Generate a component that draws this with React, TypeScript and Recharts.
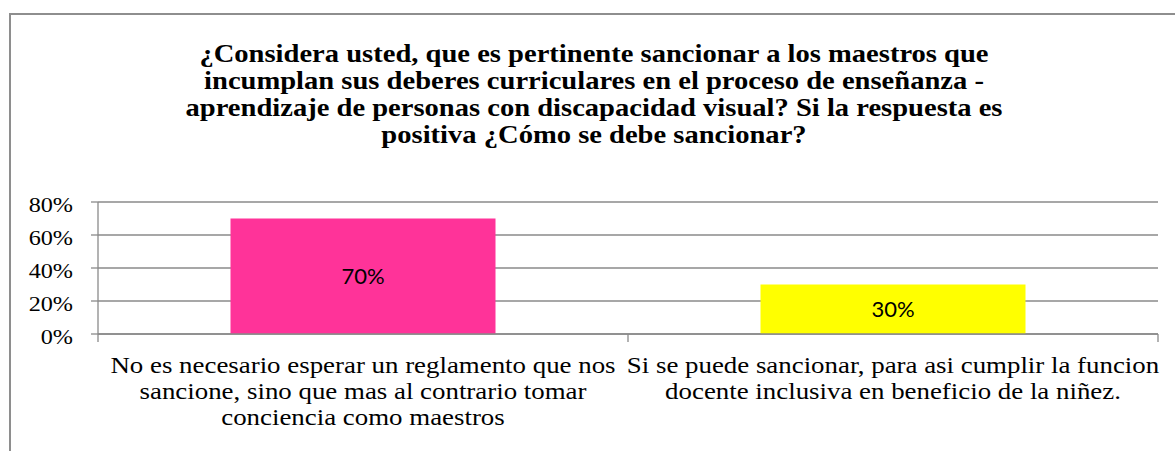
import React from 'react';
import { BarChart, Bar, XAxis, YAxis, CartesianGrid, Cell, LabelList } from 'recharts';

const titleLines = [
  '¿Considera usted, que es pertinente sancionar a los maestros que',
  'incumplan sus deberes curriculares en el proceso de enseñanza -',
  'aprendizaje de personas con discapacidad visual? Si la respuesta es',
  'positiva ¿Cómo se debe sancionar?',
];

// category labels, already split the way the original wraps them
const categoryLines = [
  ['No es necesario esperar un reglamento que nos', 'sancione, sino que mas al contrario tomar', 'conciencia como maestros'],
  ['Si se puede sancionar, para asi cumplir la funcion', 'docente inclusiva en beneficio de la niñez.'],
];
const shares = [0.7, 0.3];
const barColors = ['#ff3399', '#ffff00'];
const yTicks = [0, 0.2, 0.4, 0.6, 0.8];

const data = categoryLines.map((lines, i) => ({ name: lines.join(' '), value: shares[i] }));

const serif = 'Liberation Serif';
const gridColor = '#8a8a8a';
const pct = (v: number) => `${Math.round(v * 100)}%`;

const XTick = (props: any) => {
  const { x, y, payload, index } = props;
  const half = payload && payload.offset ? payload.offset : 265;
  const lines = categoryLines[index] || [String(payload.value)];
  const last = index === categoryLines.length - 1;
  return (
    <g>
      <line x1={x - half} x2={x - half} y1={y} y2={y + 8} stroke={gridColor} strokeWidth={1.3} />
      {last && <line x1={x + half} x2={x + half} y1={y} y2={y + 8} stroke={gridColor} strokeWidth={1.3} />}
      <text transform={`translate(${x},${y}) scale(1.12,1)`} textAnchor="middle" fontFamily={serif} fontSize={24} fill="#000">
        {lines.map((l, i) => (
          <tspan key={i} x={0} y={39 + i * 26}>{l}</tspan>
        ))}
      </text>
    </g>
  );
};

const YTick = (props: any) => {
  const { x, y, payload } = props;
  return (
    <text transform={`translate(${x},${y + 10}) scale(1.1,1)`} textAnchor="end" fontFamily={serif} fontSize={22} fill="#000">
      {pct(payload.value)}
    </text>
  );
};

export default function App() {
  return (
    <div style={{ position: 'absolute', left: 0, top: 0, width: 1175, height: 451, overflow: 'hidden', background: '#fff', fontFamily: serif }}>
      <div style={{ position: 'absolute', left: 9, top: 13, width: 1300, height: 600, borderLeft: '2px solid #8e8e8e', borderTop: '2px solid #8e8e8e' }} />
      <div
        style={{
          position: 'absolute',
          left: 0,
          top: 40,
          width: 1188,
          textAlign: 'center',
          fontFamily: serif,
          fontWeight: 'bold',
          fontSize: 25.5,
          lineHeight: '27px',
          color: '#000',
          whiteSpace: 'nowrap',
          transform: 'scaleX(1.12)',
          transformOrigin: '594px 0',
        }}
      >
        {titleLines.map((l, i) => (
          <div key={i}>{l}</div>
        ))}
      </div>
      <div style={{ position: 'absolute', left: 0, top: 0 }}>
        <BarChart
          width={1175}
          height={451}
          data={data}
          margin={{ top: 202, right: 17, bottom: 17, left: 8 }}
          barCategoryGap="25%"
          style={{ fontFamily: serif }}
        >
          <CartesianGrid horizontal vertical={false} stroke={gridColor} strokeWidth={1.3} />
          <XAxis
            dataKey="name"
            height={100}
            interval={0}
            tickLine={false}
            tickSize={0}
            tickMargin={0}
            axisLine={{ stroke: gridColor, strokeWidth: 1.3 }}
            tick={<XTick />}
          />
          <YAxis
            width={90}
            domain={[0, 0.8]}
            ticks={yTicks}
            interval={0}
            tickSize={7}
            tickMargin={18}
            tickLine={{ stroke: gridColor, strokeWidth: 1.3 }}
            axisLine={{ stroke: gridColor, strokeWidth: 1.3 }}
            tick={<YTick />}
          />
          <Bar dataKey="value" isAnimationActive={false}>
            {data.map((d, i) => (
              <Cell key={d.name} fill={barColors[i]} />
            ))}
            <LabelList
              dataKey="value"
              position="center"
              formatter={(v: any) => pct(Number(v))}
              fill="#000"
              stroke="none"
              fontFamily="Lato"
              fontSize={22}
            />
          </Bar>
        </BarChart>
      </div>
    </div>
  );
}
